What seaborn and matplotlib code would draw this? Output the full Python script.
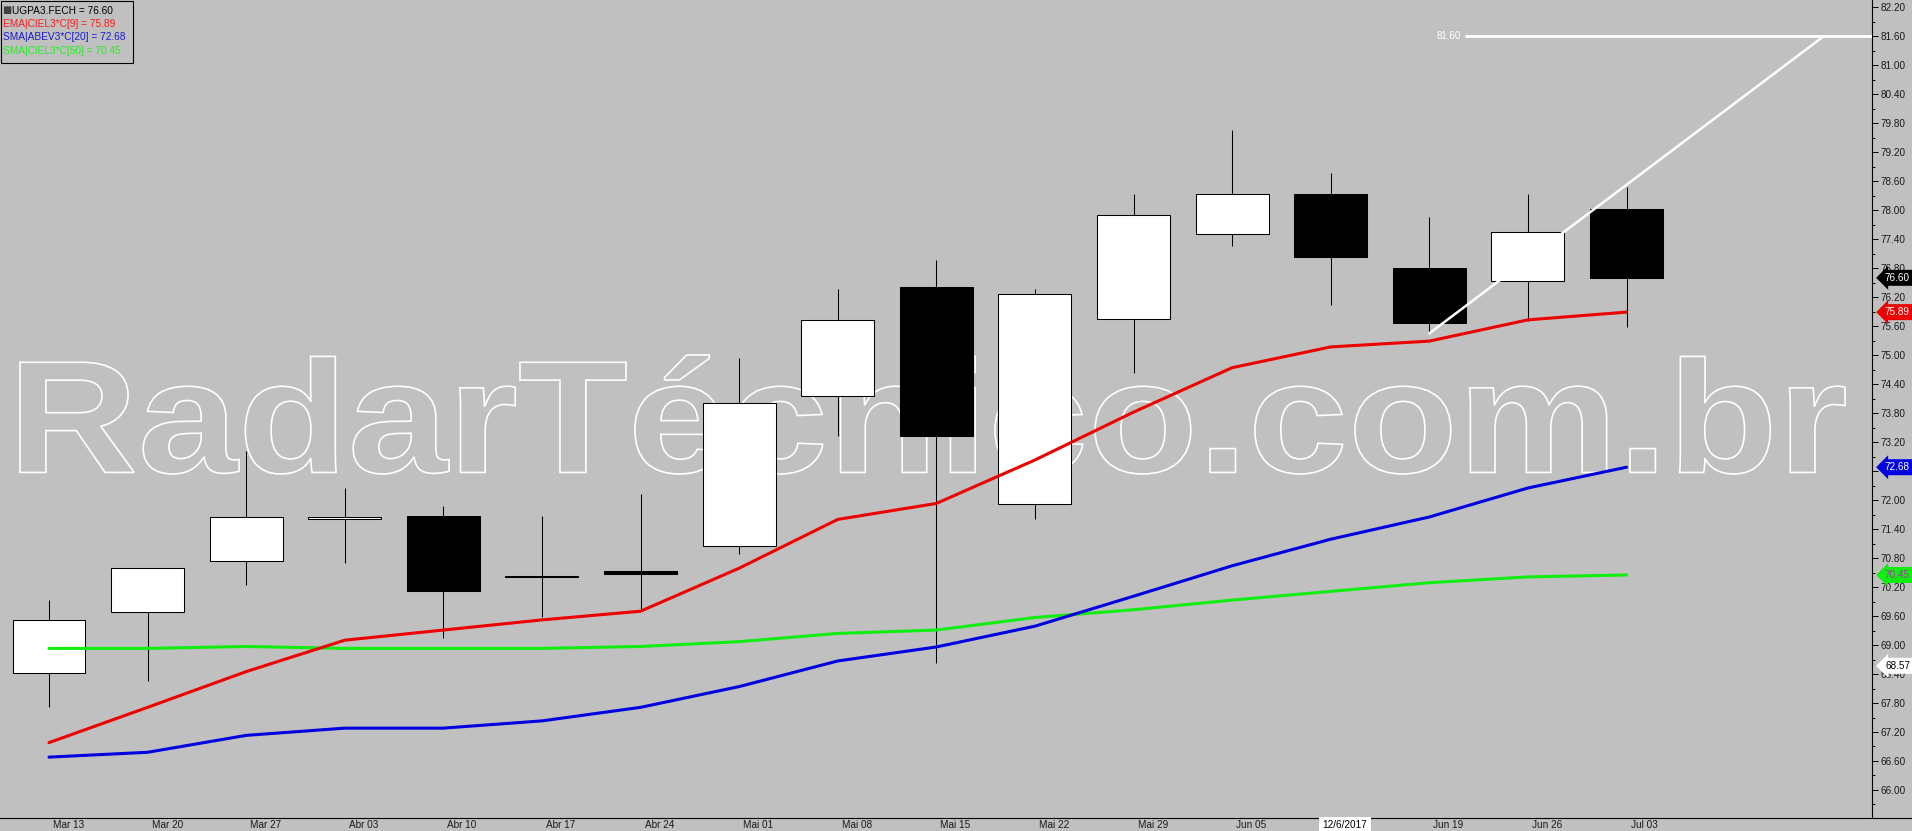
import numpy as np
import pandas as pd
import matplotlib
matplotlib.use('Agg')
import matplotlib.pyplot as plt
from matplotlib.lines import Line2D
from matplotlib.patches import PathPatch, Rectangle
from matplotlib.textpath import TextPath
from matplotlib.font_manager import FontProperties
from matplotlib.ticker import AutoMinorLocator
import matplotlib.transforms as mtransforms
import seaborn as sns

# weekly candles UGPA3
dates = ['Mar 13', 'Mar 20', 'Mar 27', 'Abr 03', 'Abr 10', 'Abr 17', 'Abr 24', 'Mai 01', 'Mai 08',
         'Mai 15', 'Mai 22', 'Mai 29', 'Jun 05', 'Jun 12', 'Jun 19', 'Jun 26', 'Jul 03']
opens = [68.43, 69.68, 70.73, 71.60, 71.67, 70.42, 70.53, 71.05, 74.15, 76.41, 71.92, 75.74, 77.50, 78.33, 76.80, 76.53, 78.02]
closes = [69.51, 70.59, 71.64, 71.65, 70.12, 70.40, 70.47, 74.00, 75.72, 73.33, 76.26, 77.91, 78.33, 77.04, 75.67, 77.54, 76.60]
highs = [69.93, 70.59, 73.02, 72.25, 71.88, 71.67, 72.12, 74.94, 76.37, 76.97, 76.37, 78.33, 79.66, 78.77, 77.86, 78.33, 78.47]
lows = [67.72, 68.26, 70.25, 70.70, 69.15, 69.58, 69.71, 70.88, 73.33, 68.62, 71.60, 74.64, 77.26, 76.04, 75.45, 75.71, 75.59]

# indicators
ema9 = [66.98, 67.71, 68.45, 69.10, 69.31, 69.52, 69.70, 70.59, 71.60, 71.93, 72.83, 73.82, 74.74, 75.17, 75.29, 75.73, 75.89]
sma20 = [66.68, 66.78, 67.13, 67.28, 67.28, 67.43, 67.71, 68.14, 68.67, 68.96, 69.39, 70.01, 70.64, 71.19, 71.65, 72.25, 72.68]
sma50 = [68.93, 68.93, 68.97, 68.93, 68.93, 68.93, 68.97, 69.07, 69.24, 69.31, 69.57, 69.73, 69.93, 70.11, 70.29, 70.41, 70.45]

legend_lines = ['UGPA3.FECH = 76.60', 'EMA|CIEL3*C[9] = 75.89', 'SMA|ABEV3*C[20] = 72.68', 'SMA|CIEL3*C[50] = 70.45']

# drawn trendline + level
trend_x = [14, 18]
trend_y = [75.45, 81.60]
level = 81.60
level_start = 14.36

cursor_idx = 13
cursor_label = '12/6/2017'
cursor_price = 68.57

BG = '#c0c0c0'
RED = '#ee0000'
BLUE = '#0000e0'
GREEN = '#10ee10'

sns.set_style('white', rc={'axes.facecolor': BG, 'figure.facecolor': BG})
plt.rcParams['font.family'] = ['Liberation Sans', 'DejaVu Sans']

fig = plt.figure(figsize=(19.12, 8.31), dpi=100)
ax = fig.add_axes([0, 13 / 831, 1872 / 1912, 818 / 831])

x = np.arange(len(dates))
df = pd.DataFrame({'idx': x, 'open': opens, 'close': closes, 'high': highs, 'low': lows,
                   'ema9': ema9, 'sma20': sma20, 'sma50': sma50})

# watermark
tp = TextPath((0, 0), 'RadarTécnico.com.br', size=1,
              prop=FontProperties(family='Liberation Sans', weight='bold'))
ext = tp.get_extents()
x0, x1 = 20 / 1872, 1845 / 1872
yb, yt = 1 - 474 / 818, 1 - 355 / 818
wm = mtransforms.Affine2D().translate(-ext.x0, -ext.y0).scale((x1 - x0) / ext.width, (yt - yb) / ext.height) \
    .translate(x0, yb) + ax.transAxes
ax.add_patch(PathPatch(tp, transform=wm, fc='none', ec='white', lw=1.2, zorder=1))

# candles
up = df['close'] >= df['open']
ax.vlines(df['idx'], df['low'], df['high'], color='black', lw=0.75, zorder=2)
ax.bar(df['idx'], (df['close'] - df['open']).abs(), bottom=np.minimum(df['open'], df['close']),
       width=0.74, color=np.where(up, 'white', 'black'), edgecolor='black', linewidth=0.75, zorder=3)

# moving averages
sns.lineplot(data=df, x='idx', y='sma50', color=GREEN, lw=2.2, ax=ax, zorder=4)
sns.lineplot(data=df, x='idx', y='sma20', color=BLUE, lw=2.2, ax=ax, zorder=4)
sns.lineplot(data=df, x='idx', y='ema9', color=RED, lw=2.2, ax=ax, zorder=4)

# trendline and level
ax.plot(trend_x, trend_y, color='white', lw=1.8, zorder=5)
ax.hlines(level, level_start, 18.49, color='white', lw=2.0, zorder=5)
ax.annotate(f'{level:.2f}', xy=(level_start, level), xytext=(-4, 0), textcoords='offset pixels',
            ha='right', va='center', fontsize=7, color='white')

ax.set_xlim(-0.497, 18.49)
ax.set_ylim(65.42, 82.35)
ax.set_xlabel('')
ax.set_ylabel('')

for s in ['left', 'top']:
    ax.spines[s].set_visible(False)
for s in ['right', 'bottom']:
    ax.spines[s].set_color('black')
    ax.spines[s].set_linewidth(0.8)
fig.add_artist(Line2D([1872 / 1912, 1], [13 / 831, 13 / 831], transform=fig.transFigure, color='black', lw=0.8))

# price axis (label under the 72.68 tag is hidden, as on the reference)
ax.yaxis.tick_right()
yt_vals = np.arange(66.0, 82.21, 0.6)
ax.set_yticks(yt_vals)
ax.set_yticklabels(['' if abs(v - 72.6) < 0.01 else f'{v:.2f}' for v in yt_vals])
ax.yaxis.set_minor_locator(AutoMinorLocator(2))
ax.tick_params(axis='y', which='major', direction='out', length=4, width=0.7, color='black',
               labelsize=7.2, pad=2, labelcolor='#1a1a1a')
ax.tick_params(axis='y', which='minor', direction='out', length=2.5, width=0.7, color='black')

# date axis
ax.set_xticks(x)
ax.set_xticklabels([])
ax.tick_params(axis='x', direction='out', length=9.6, width=0.7, color='black')
for i, d in enumerate(dates):
    if i == cursor_idx:
        continue
    ax.annotate(d, xy=(i, 0), xycoords=ax.get_xaxis_transform(), xytext=(4, -7), textcoords='offset pixels',
                ha='left', va='center', fontsize=7.2, color='#1a1a1a',
                family=['Liberation Sans Narrow', 'Liberation Sans'], annotation_clip=False)
ax.annotate(cursor_label, xy=(cursor_idx, 0), xycoords=ax.get_xaxis_transform(), xytext=(14, -7),
            textcoords='offset pixels', ha='center', va='center', fontsize=7.2, color='black',
            family=['Liberation Sans Narrow', 'Liberation Sans'], annotation_clip=False, zorder=10,
            bbox=dict(boxstyle='square,pad=0.35', fc='white', ec='none'))

# price tags
tags = [(closes[-1], 'black', 'white'), (ema9[-1], RED, 'white'), (sma20[-1], BLUE, 'white'),
        (sma50[-1], GREEN, '#b030b0'), (cursor_price, 'white', 'black')]
for val, fc, tc in tags:
    ax.annotate(f'{val:.2f}', xy=(1, val), xycoords=('axes fraction', 'data'), xytext=(13, 0),
                textcoords='offset pixels', ha='left', va='center', fontsize=7.2, color=tc,
                annotation_clip=False, zorder=10,
                bbox=dict(boxstyle='larrow,pad=0.3', fc=fc, ec='none'))

# legend box
ax.add_patch(Rectangle((1 / 1872, 1 - 63 / 818), 132 / 1872, 62 / 818, transform=ax.transAxes,
                       fill=False, ec='black', lw=0.8, zorder=6, clip_on=False))
leg_colors = ['black', '#ff1a1a', '#1a1ad0', '#22ee22']
leg_y = [10.5, 24, 37.5, 51.5]
ax.annotate('■', xy=(0, 1), xycoords='axes fraction', xytext=(2, -leg_y[0]), textcoords='offset pixels',
            ha='left', va='center', fontsize=7, color='#404040', family='DejaVu Sans')
for k, (t, c) in enumerate(zip(legend_lines, leg_colors)):
    ax.annotate(t, xy=(0, 1), xycoords='axes fraction', xytext=(12 if k == 0 else 3, -leg_y[k]),
                textcoords='offset pixels', ha='left', va='center', fontsize=7.3, color=c, zorder=7)

fig.savefig('out.png', dpi=100, facecolor=BG)
